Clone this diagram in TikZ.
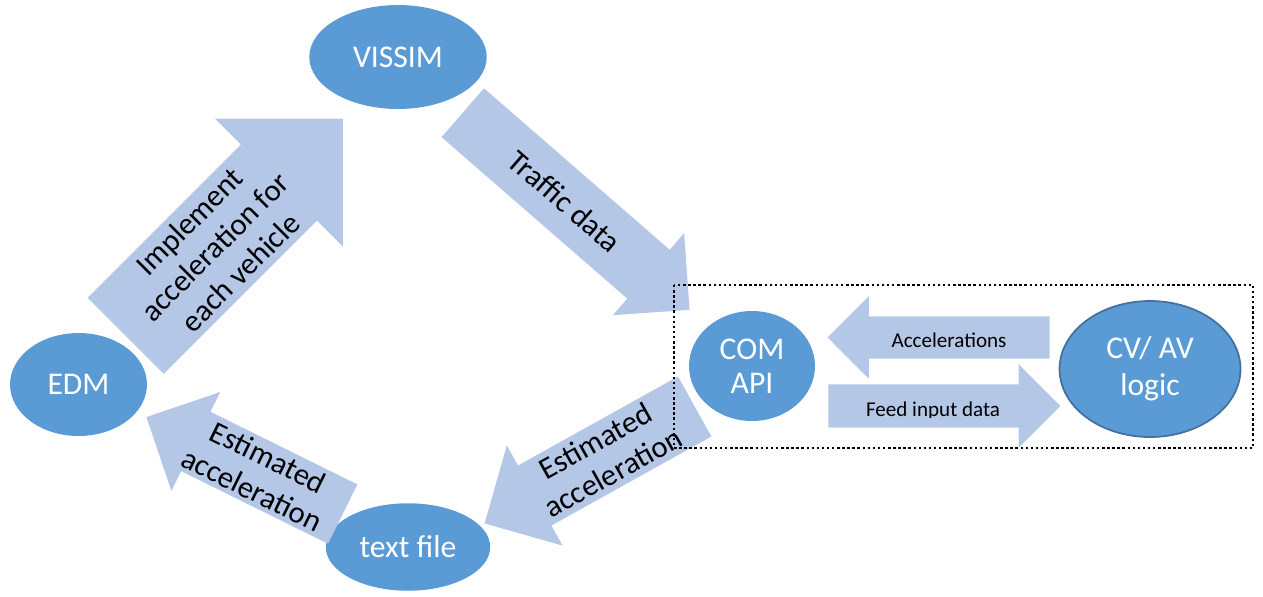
\documentclass[tikz,border=0pt]{standalone}
\usepackage{fontspec}
\setmainfont{Carlito}
\usetikzlibrary{shapes.geometric,shapes.arrows,calc}
\definecolor{nodeblue}{HTML}{5B9BD5}
\definecolor{arrowblue}{HTML}{B4C7E7}
\definecolor{rimblue}{HTML}{41719C}

\begin{document}
\begin{tikzpicture}[
  x=0.02cm, y=-0.02cm,
  station/.style={ellipse,fill=nodeblue,text=white,inner sep=0pt,
    align=center,font=\fontsize{18}{19.5}\selectfont},
  flow/.style={single arrow,fill=arrowblue,inner xsep=0pt,
    single arrow head extend=#1},
  flowtext/.style={align=center,font=\fontsize{17.5}{20.5}\selectfont},
  smalltext/.style={font=\fontsize{12}{14}\selectfont},
  group/.style={draw,line width=1.4pt,dash pattern=on 1.4pt off 1.5pt}
]
\useasboundingbox (0,0) rectangle (1263,596);

% ellipses
\node[station,minimum width=3.55cm,minimum height=2.08cm] (vissim) at (398,57) {VISSIM};
\node[station,minimum width=2.74cm,minimum height=2.06cm] (edm) at (78.5,384.5) {EDM};
\node[station,minimum width=3.29cm,minimum height=1.75cm] (txt) at (408,547) {text file};
\node[station,minimum width=2.52cm,minimum height=2.2cm] (com) at (752,366) {COM\\API};
\node[station,draw=rimblue,line width=1pt,minimum width=3.62cm,minimum height=2.72cm,
  font=\fontsize{18}{21}\selectfont] (cvav) at (1150,369) {CV/ AV\\logic};

% block arrows
\node[flow=0.73cm,inner ysep=1.07cm,minimum height=6.14cm,rotate=45,anchor=tail]
  (impl) at (125.5,336) {};
\node[flow=0.44cm,inner ysep=0.64cm,minimum height=6.01cm,rotate=-41,anchor=tail]
  (traffic) at (462.5,112.5) {};
\node[flow=0.46cm,inner ysep=0.68cm,minimum height=4.81cm,rotate=209.1,anchor=tail]
  (estright) at (695,406.3) {};
\node[flow=0.44cm,inner ysep=0.655cm,minimum height=4.38cm,rotate=153.7,anchor=tail]
  (estleft) at (343,514.2) {};
\node[flow=0.40cm,inner ysep=0.415cm,minimum height=4.44cm,rotate=180,anchor=tail]
  (accel) at (1050,337.5) {};
\node[flow=0.40cm,inner ysep=0.425cm,minimum height=4.64cm,anchor=tail]
  (feed) at (828,406) {};

% arrow texts
\node[flowtext,rotate=45] (impltext) at ($(impl.tail)!0.41!(impl.tip)$)
  {Implement\\acceleration for\\each vehicle};
\node[flowtext,rotate=-41] (traffictext) at ($(traffic.tail)!0.45!(traffic.tip)$)
  {Traffic data};
\node[flowtext,rotate=29.1] (estrighttext) at ($(estright.tail)!0.43!(estright.tip)$)
  {Estimated\\acceleration};
\node[flowtext,rotate=-26.3] (estlefttext) at ($(estleft.tail)!0.42!(estleft.tip)$)
  {Estimated\\acceleration};
\node[smalltext,anchor=base] (acceltext) at (949,347) {Accelerations};
\begin{scope}
  \clip (828,380) rectangle (1020,417);
  \node[smalltext,anchor=base] (feedtext) at (933,416.5) {Feed input data};
\end{scope}

% dotted frame
\draw[group] (674,285) rectangle (1253,448);
\end{tikzpicture}
\end{document}
